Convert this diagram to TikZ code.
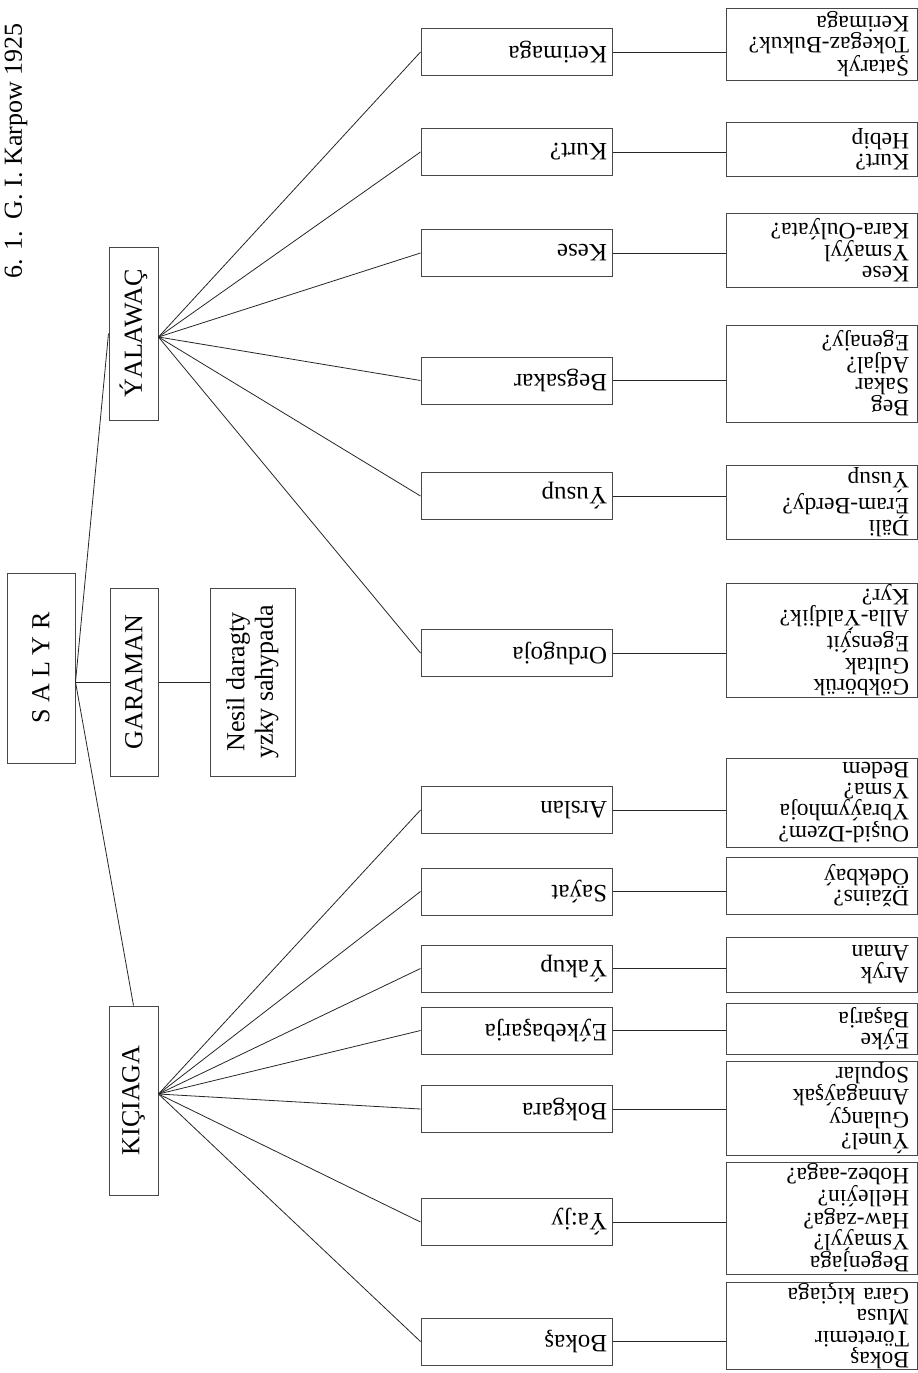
\documentclass[tikz,border=0pt]{standalone}
\usepackage{fontspec}
\setmainfont{Liberation Serif}
\begin{document}
\begin{tikzpicture}[x=1pt,y=-1pt,
  box/.style={draw=black!72, line width=1pt, inner sep=0pt},
  lone/.style={box, rotate=90, font=\fontsize{26}{28.5}\selectfont, align=center},
  ltwo/.style={box, rotate=180, minimum width=191pt, minimum height=47pt, text width=181pt, inner xsep=5pt, inner ysep=0pt, align=left, font=\fontsize{25}{26}\selectfont},
  leaf/.style={box, rotate=180, minimum width=191pt, text width=175pt, inner xsep=8pt, inner ysep=1pt, align=left, font=\fontsize{23.5}{21.2}\selectfont},
  con/.style={draw=black!85, line width=0.8pt}]
\useasboundingbox (0,0) rectangle (918,1373);

\node[rotate=90, inner sep=0pt, font=\fontsize{26}{28}\selectfont] (title) at (16,151) {6. 1.\hspace{0.45em}G. I. Karpow 1925};

\node[lone, minimum width=190pt, minimum height=68pt] (salyr) at (41,668) {S A L Y R};
\node[lone, minimum width=173pt, minimum height=49pt] (yal) at (133.5,333.5) {ÝALAWAÇ};
\node[lone, minimum width=188pt, minimum height=48pt] (gar) at (134,682) {GARAMAN};
\node[lone, minimum width=188pt, minimum height=85pt] (nes) at (252.5,682) {Nesil daragty\\yzky sahypada};
\node[lone, minimum width=189pt, minimum height=49pt] (kic) at (133.5,1100.5) {KIÇIAGA};

% second level
\node[ltwo] (n1) at (516.5,52) {Kerimaga};
\node[ltwo] (n2) at (516.5,152) {Kurt?};
\node[ltwo] (n3) at (516.5,253) {Kese};
\node[ltwo] (n4) at (516.5,380.5) {Begsakar};
\node[ltwo] (n5) at (516.5,496) {Ýusup};
\node[ltwo] (n6) at (516.5,653) {Ordugoja};
\node[ltwo] (n7) at (516.5,810) {Arslan};
\node[ltwo] (n8) at (516.5,891.5) {Saýat};
\node[ltwo] (n9) at (516.5,968.5) {Ýakup};
\node[ltwo] (n10) at (516.5,1030.5) {Eýkebaşarja};
\node[ltwo] (n11) at (516.5,1109) {Bokgara};
\node[ltwo] (n12) at (516.5,1222) {Ýa:jy};
\node[ltwo] (n13) at (516.5,1341.5) {Bokaş};

% leaves
\node[leaf, minimum height=72pt] (m1) at (821.5,44) {Şataryk\\Tokegaz-Bukuk?\\Kerimaga};
\node[leaf, minimum height=54pt] (m2) at (821.5,149) {Kurt?\\Hebip};
\node[leaf, minimum height=74pt] (m3) at (821.5,250) {Kese\\Ysmaýyl\\Kara-Oulýata?};
\node[leaf, minimum height=97pt] (m4) at (821.5,373.5) {Beg\\Sakar\\Adjal?\\Egenajy?};
\node[leaf, minimum height=74pt] (m5) at (821.5,502) {Däli\\Éram-Berdy?\\Ýusup};
\node[leaf, minimum height=114pt] (m6) at (821.5,640) {Gökbörük\\Gultak\\Egensýit\\Alla-Ýaldjik?\\Kyr?};
\node[leaf, minimum height=89pt] (m7) at (821.5,802.5) {Ouşid-Dzem?\\Ybraýymhoja\\Ysma?\\Bedem};
\node[leaf, minimum height=57pt] (m8) at (821.5,885.5) {Džains?\\Ödekbaý};
\node[leaf, minimum height=55pt] (m9) at (821.5,964.5) {Aryk\\Aman};
\node[leaf, minimum height=51pt] (m10) at (821.5,1028.5) {Eýke\\Başarja};
\node[leaf, minimum height=94pt] (m11) at (821.5,1108) {Ýunel?\\Gulançy\\Annagaýşak\\Sopular};
\node[leaf, minimum height=112pt] (m12) at (821.5,1218) {Begenjaga\\Ysmaýyl?\\Haw-zaga?\\Helleýin?\\Hobez-aaga?};
\node[leaf, minimum height=86pt] (m13) at (821.5,1326) {Bokaş\\Töretemir\\Musa\\Gara kiçiaga};

% connectors
\coordinate (sj) at (salyr.south |- gar.north);
\draw[con] (sj) -- (gar.north);
\draw[con] (gar.south) -- (nes.north);
\draw[con] (sj) -- (yal.north);
\draw[con] (sj) -- (kic.east);

\coordinate (yj) at ([yshift=-3.5pt]yal.south);
\coordinate (kj) at ([yshift=6.5pt]kic.south);
\foreach \i in {1,...,6} { \draw[con] (yj) -- (n\i.east); }
\foreach \i in {7,...,13} { \draw[con] (kj) -- (n\i.east); }
\foreach \i in {1,...,13} { \draw[con] (n\i.west) -- (n\i.west -| m\i.east); }
\end{tikzpicture}
\end{document}
